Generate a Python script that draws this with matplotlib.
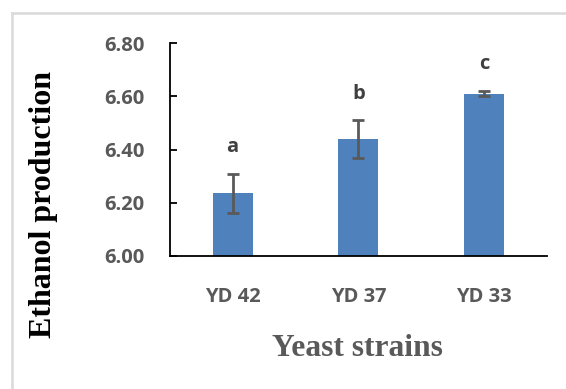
import matplotlib
matplotlib.use("Agg")
import matplotlib.pyplot as plt
from matplotlib.lines import Line2D

# data
strains = ["YD 42", "YD 37", "YD 33"]
ethanol = [6.235, 6.44, 6.61]
err = [0.075, 0.07, 0.01]
letters = ["a", "b", "c"]

yticks = [6.00, 6.20, 6.40, 6.60, 6.80]

gray = "#595959"
bar_color = "#4F81BD"

fig = plt.figure(figsize=(5.66, 3.89), dpi=100)
ax = fig.add_axes([0.300, 0.342, 0.666, 0.547])

x = range(len(strains))
ax.bar(x, ethanol, width=0.32, color=bar_color, zorder=2)
ax.errorbar(x, ethanol, yerr=err, fmt="none", ecolor=gray,
            elinewidth=2, capsize=4.5, capthick=2, zorder=3)

for i, (v, e, l) in enumerate(zip(ethanol, err, letters)):
    ax.text(i, v + e + 0.1, l, ha="center", va="center",
            fontsize=14.5, fontweight="bold", color="#404040",
            family="Open Sans")

ax.set_xlim(-0.5, 2.5)
ax.set_ylim(6.0, 6.8)
ax.set_yticks(yticks)
ax.set_yticklabels(["%.2f" % t for t in yticks])
ax.set_xticks(list(x))
ax.set_xticklabels(strains)

for s in ["top", "right"]:
    ax.spines[s].set_visible(False)
for s in ["left", "bottom"]:
    ax.spines[s].set_linewidth(1.3)
    ax.spines[s].set_color("black")

ax.tick_params(axis="y", direction="in", length=5, width=1.3, pad=18,
               labelsize=14.5, labelcolor=gray)
ax.tick_params(axis="x", length=0, pad=22, labelsize=14.5, labelcolor=gray)
for lab in ax.get_yticklabels() + ax.get_xticklabels():
    lab.set_fontweight("bold")
    lab.set_family("Open Sans")

fig.text(0.076, 0.474, "Ethanol production", rotation=90, ha="center",
         va="center", fontsize=23, fontweight="bold", color="black",
         family="Liberation Serif")
fig.text(0.631, 0.105, "Yeast strains", ha="center", va="center",
         fontsize=22.7, fontweight="bold", color=gray,
         family="Liberation Serif")

# light frame around the chart (top and left edges only visible)
fig.add_artist(Line2D([12 / 566, 1], [1 - 13 / 389, 1 - 13 / 389],
                      color="#d9d9d9", lw=1.8))
fig.add_artist(Line2D([12 / 566, 12 / 566], [0, 1 - 13 / 389],
                      color="#d9d9d9", lw=1.8))

fig.savefig("out.png", dpi=100)
